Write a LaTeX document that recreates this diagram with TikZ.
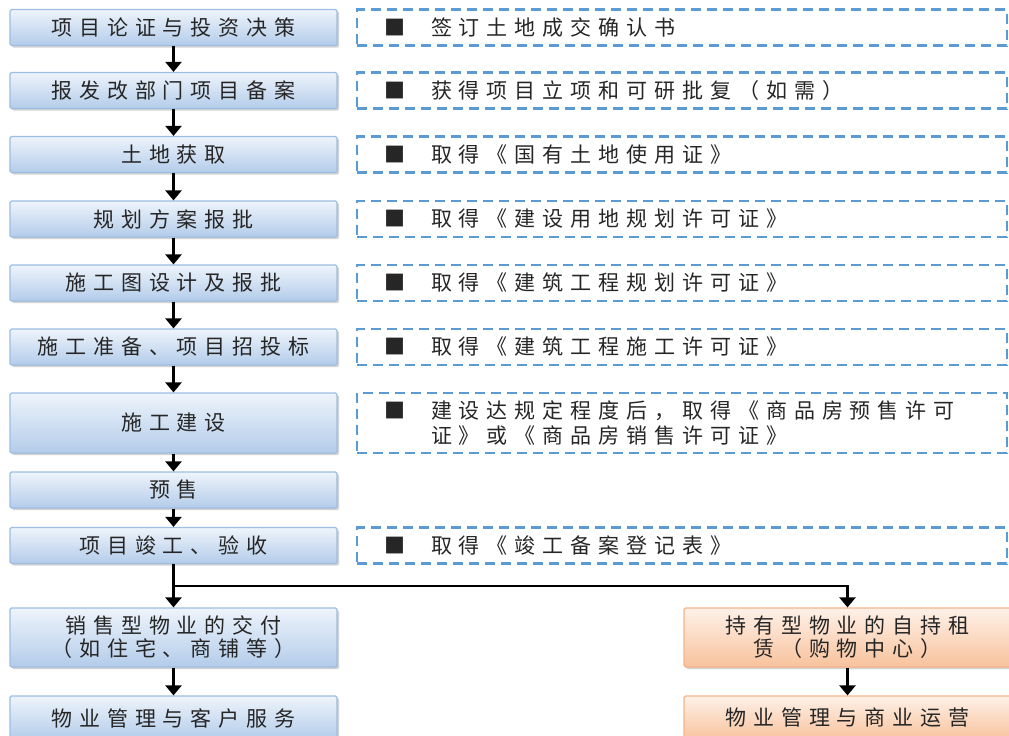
\documentclass[tikz,border=0pt]{standalone}
\usepackage{fontspec}
\setmainfont{Noto Sans CJK SC}[LetterSpace=33]
\usepackage{tikz}
\usetikzlibrary{arrows.meta,shadows}
\definecolor{stageTop}{HTML}{EEF4FB}
\definecolor{stageBot}{HTML}{B3CCEA}
\definecolor{stageLine}{HTML}{9DBDE2}
\definecolor{permitLine}{HTML}{5B9BD5}
\definecolor{holdTop}{HTML}{FEF1E8}
\definecolor{holdBot}{HTML}{F8C29C}
\definecolor{holdLine}{HTML}{F6B48A}
\newcommand{\permitmark}{\makebox[47pt][l]{■}}

\begin{document}
\begin{tikzpicture}[>={Triangle[width=16pt,length=10pt]}, node distance=64pt]
	\tikzstyle{stage} = [draw=stageLine, line width=1.2pt, rounded corners=1.5pt, top color=stageTop, bottom color=stageBot, minimum width=327pt, minimum height=36pt, inner sep=0pt, align=center, text=black!85, font=\fontsize{21pt}{23pt}\selectfont, drop shadow={shadow xshift=2pt, shadow yshift=-2pt, fill=black!35}]
	\tikzstyle{hold} = [stage, draw=holdLine, top color=holdTop, bottom color=holdBot]
	\tikzstyle{permit} = [draw=permitLine, line width=2.6pt, dash pattern=on 10pt off 6pt, minimum width=650pt, minimum height=36pt, text width=596pt, inner xsep=27pt, inner ysep=0pt, align=left, text=black!85, font=\fontsize{21pt}{25pt}\selectfont]
	\tikzstyle{flow} = [->, black, line width=2.4pt]

	\useasboundingbox (0,0) rectangle (1009pt,-736pt);

	\path
	node[stage] (s1) at (173.5pt,-27.5pt) {项目论证与投资决策}
	node[stage, below of=s1, node distance=63pt] (s2) {报发改部门项目备案}
	node[stage, below of=s2] (s3) {土地获取}
	node[stage, below of=s3, node distance=64.5pt] (s4) {规划方案报批}
	node[stage, below of=s4] (s5) {施工图设计及报批}
	node[stage, below of=s5] (s6) {施工准备、项目招投标}
	node[stage, below of=s6, node distance=76pt, minimum height=60pt] (s7) {施工建设}
	node[stage, below of=s7, node distance=67pt] (s8) {预售}
	node[stage, below of=s8, node distance=55.5pt] (s9) {项目竣工、验收}
	node[stage, below of=s9, node distance=92pt, minimum height=59pt] (s10) {销售型物业的交付\\（如住宅、商铺等）}
	node[stage, below of=s10, node distance=80.5pt, minimum height=44pt] (s11) {物业管理与客户服务}

	node[permit, right of=s1, node distance=508.5pt] (p1) {\permitmark 签订土地成交确认书}
	node[permit, right of=s2, node distance=508.5pt] (p2) {\permitmark 获得项目立项和可研批复（如需）}
	node[permit, right of=s3, node distance=508.5pt] (p3) {\permitmark 取得《国有土地使用证》}
	node[permit, right of=s4, node distance=508.5pt] (p4) {\permitmark 取得《建设用地规划许可证》}
	node[permit, right of=s5, node distance=508.5pt] (p5) {\permitmark 取得《建筑工程规划许可证》}
	node[permit, right of=s6, node distance=508.5pt] (p6) {\permitmark 取得《建筑工程施工许可证》}
	node[permit, right of=s7, node distance=508.5pt, minimum height=60pt] (p7) {\permitmark 建设达规定程度后，取得《商品房预售许可\\\hspace*{47pt}证》或《商品房销售许可证》}
	node[permit, right of=s9, node distance=508.5pt] (p9) {\permitmark 取得《竣工备案登记表》}

	node[hold, right of=s10, node distance=674pt, minimum height=59pt] (h1) {持有型物业的自持租\\赁（购物中心）}
	node[hold, below of=h1, node distance=80.5pt, minimum height=44pt] (h2) {物业管理与商业运营}

	(s1) edge[flow] (s2)
	(s2) edge[flow] (s3)
	(s3) edge[flow] (s4)
	(s4) edge[flow] (s5)
	(s5) edge[flow] (s6)
	(s6) edge[flow] (s7)
	(s7) edge[flow] (s8)
	(s8) edge[flow] (s9)
	(s9) edge[flow] (s10)
	(s10) edge[flow] (s11)
	(h1) edge[flow] (h2)
	;

	\path (s9.south) -- (s10.north) coordinate[midway] (fork);
	\draw[flow] (fork) -| (h1.north);
\end{tikzpicture}
\end{document}
